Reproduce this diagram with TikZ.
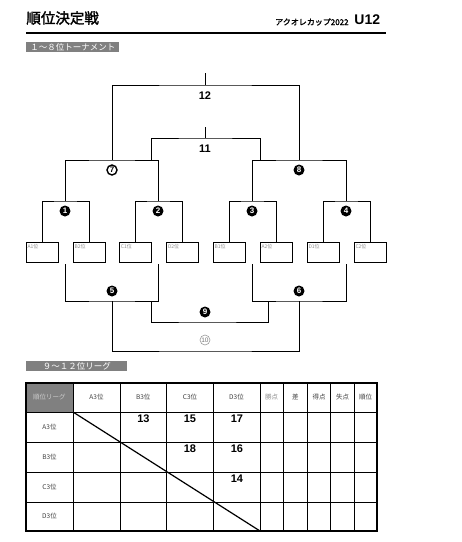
\documentclass[tikz,border=0pt]{standalone}
\usepackage{fontspec}
\setmainfont{Liberation Sans}
\newfontfamily\jp{Noto Sans CJK JP}
\newfontfamily\jpb[FakeBold=2]{Noto Sans CJK JP}
\begin{document}
\begin{tikzpicture}[x=1pt,y=-1pt,line width=0.8pt,
  teambox/.style={draw,minimum width=32pt,minimum height=20pt,inner sep=0pt},
  lbl/.style={anchor=north west,inner sep=0pt,text=black!45,font=\jp\fontsize{5}{5}\selectfont},
  secbox/.style={fill=black!50,text=white,inner sep=0pt,minimum height=10pt,anchor=north west,font=\jp\fontsize{8.5}{8.5}\selectfont},
  circB/.style={circle,fill=black,text=white,inner sep=0pt,minimum size=11pt,font=\bfseries\fontsize{8}{8}\selectfont},
  circO/.style={circle,draw,line width=1.4pt,inner sep=0pt,minimum size=10pt,font=\bfseries\fontsize{8}{8}\selectfont},
  circL/.style={circle,draw=black!40,text=black!55,line width=0.6pt,inner sep=0pt,minimum size=10pt,font=\fontsize{6.5}{6.5}\selectfont},
  num/.style={inner sep=0pt,font=\bfseries\fontsize{11}{11}\selectfont},
  hdr/.style={inner sep=0pt,text=black!75,font=\jp\fontsize{6.5}{6.5}\selectfont},
  thick line/.style={line width=1.6pt}]
\useasboundingbox (0,0) rectangle (462,542);
% ---- title
\node[anchor=west,inner sep=0pt,font=\jpb\fontsize{14.5}{15}\selectfont] (title) at (26,18) {順位決定戦};
\node[anchor=east,inner sep=0pt,font=\jpb\fontsize{8}{8}\selectfont] (cup) at (349,22) {アクオレカップ2022};
\node[anchor=west,inner sep=0pt,font=\bfseries\fontsize{14}{14}\selectfont] (u12) at (354,20) {U12};
\coordinate (ul1) at (26,33);
\coordinate (ul2) at (386,33);
\draw[thick line] (ul1) -- (ul2);
\node[secbox,minimum width=93pt] (sec1) at (26,42) {１～８位トーナメント};
% ---- team boxes
\node[teambox] (b1) at (42,252) {};
\node[teambox] (b2) at (89,252) {};
\node[teambox] (b3) at (135.5,252) {};
\node[teambox] (b4) at (182.5,252) {};
\node[teambox] (b5) at (229,252) {};
\node[teambox] (b6) at (276,252) {};
\node[teambox] (b7) at (323,252) {};
\node[teambox] (b8) at (370,252) {};
\node[lbl] (t1) at ([shift={(1.5,2)}]b1.north west) {A1位};
\node[lbl] (t2) at ([shift={(1.5,2)}]b2.north west) {B2位};
\node[lbl] (t3) at ([shift={(1.5,2)}]b3.north west) {C1位};
\node[lbl] (t4) at ([shift={(1.5,2)}]b4.north west) {D2位};
\node[lbl] (t5) at ([shift={(1.5,2)}]b5.north west) {B1位};
\node[lbl] (t6) at ([shift={(1.5,2)}]b6.north west) {A2位};
\node[lbl] (t7) at ([shift={(1.5,2)}]b7.north west) {D1位};
\node[lbl] (t8) at ([shift={(1.5,2)}]b8.north west) {C2位};
% ---- bracket coordinates
\coordinate (r1) at (65,201);
\coordinate (r2) at (158,201);
\coordinate (r3) at (252,201);
\coordinate (r4) at (346,201);
\coordinate (s7) at (112,160);
\coordinate (s8) at (299,160);
\coordinate (u7) at (151,160);
\coordinate (u8) at (260,160);
\coordinate (fin) at (205,85);
\coordinate (thr) at (205,138);
% first round
\draw (b1.north) |- (r1) -| (b2.north);
\draw (b3.north) |- (r2) -| (b4.north);
\draw (b5.north) |- (r3) -| (b6.north);
\draw (b7.north) |- (r4) -| (b8.north);
% second round
\draw (r1) |- (s7) -| (r2);
\draw (r3) |- (s8) -| (r4);
% final and 3rd place
\draw (s7) |- (fin) -| (s8);
\draw (fin) -- ++(0,-12);
\draw (u7) |- (thr) -| (u8);
\draw (thr) -- ++(0,-11);
% losers bracket
\coordinate (q1) at (65,264);
\coordinate (q2) at (158,264);
\coordinate (q3) at (252,264);
\coordinate (q4) at (346,264);
\coordinate (lo5) at (112,301);
\coordinate (lo6) at (299,301);
\coordinate (v9a) at (151,301);
\coordinate (v9b) at (268,301);
\coordinate (m9) at (205,322);
\coordinate (m10) at (205,351);
\draw (q1) |- (lo5) -| (q2);
\draw (q3) |- (lo6) -| (q4);
\draw (v9a) |- (m9) -| (v9b);
\draw (lo5) |- (m10) -| (lo6);
% ---- match labels
\node[num] (n12) at (205,96) {12};
\node[num] (n11) at (205,149) {11};
\node[circO] (c7) at (112,170) {7};
\node[circB] (c8) at (299,170) {8};
\node[circB] (c1) at (65,211) {1};
\node[circB] (c2) at (158,211) {2};
\node[circB] (c3) at (252,211) {3};
\node[circB] (c4) at (346,211) {4};
\node[circB] (c5) at (112,291) {5};
\node[circB] (c6) at (299,291) {6};
\node[circB] (c9) at (205,312) {9};
\node[circL] (c10) at (205,340) {10};
% ---- league section
\node[secbox,minimum width=101pt] (sec2) at (26,361) {９～１２位リーグ};
\fill[black!50] (26,383) rectangle (73,412);
\foreach \x in {73,120,166.7,213,260,283.3,307.3,330.7,354.3} \draw (\x,383) -- (\x,531);
\foreach \y in {412,442,472,502} \draw (26,\y) -- (377,\y);
\draw[thick line] (26,383) rectangle (377,531);
\coordinate (dg1) at (73,412);
\coordinate (dg2) at (260,531);
\draw[line width=1.2pt] (dg1) -- (dg2);
% headers
\node[hdr,text=black!20] (h0) at (49.5,397.5) {順位リーグ};
\node[hdr] (h1) at (96.5,397.5) {A3位};
\node[hdr] (h2) at (143.3,397.5) {B3位};
\node[hdr] (h3) at (190,397.5) {C3位};
\node[hdr] (h4) at (236.5,397.5) {D3位};
\node[hdr,text=black!45] (h5) at (271.6,397.5) {勝点};
\node[hdr] (h6) at (295.3,397.5) {差};
\node[hdr] (h7) at (319,397.5) {得点};
\node[hdr] (h8) at (342.5,397.5) {失点};
\node[hdr] (h9) at (365.7,397.5) {順位};
\node[hdr] (ra) at (49.5,427) {A3位};
\node[hdr] (rb) at (49.5,457) {B3位};
\node[hdr] (rc) at (49.5,487) {C3位};
\node[hdr] (rd) at (49.5,516.5) {D3位};
% match numbers
\node[num] (m13) at (143.5,419) {13};
\node[num] (m15) at (190,419) {15};
\node[num] (m17) at (237,419) {17};
\node[num] (m18) at (190,449) {18};
\node[num] (m16) at (237,449) {16};
\node[num] (m14) at (237,479) {14};
\end{tikzpicture}
\end{document}
